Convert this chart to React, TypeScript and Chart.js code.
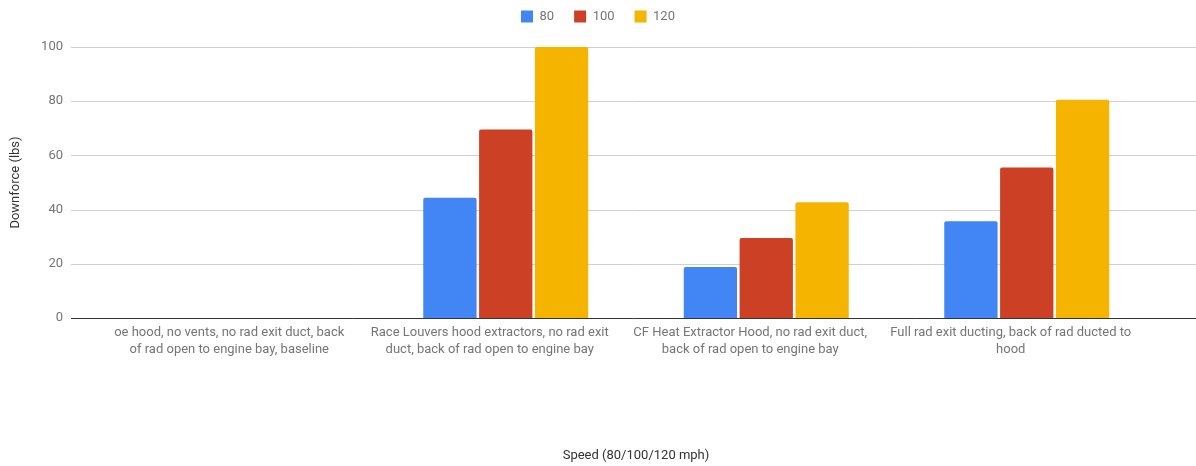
import React, { useEffect, useRef } from "react";
import { Chart, registerables } from "chart.js";

Chart.register(...registerables);

const categories: string[][] = [
  ["oe hood, no vents, no rad exit duct, back", "of rad open to engine bay, baseline"],
  ["Race Louvers hood extractors, no rad exit", "duct, back of rad open to engine bay"],
  ["CF Heat Extractor Hood, no rad exit duct,", "back of rad open to engine bay"],
  ["Full rad exit ducting, back of rad ducted to", "hood"],
];
const seriesNames = ["80", "100", "120"];
const values80 = [0, 44.4, 18.8, 35.7];
const values100 = [0, 69.6, 29.5, 55.5];
const values120 = [0, 100, 42.7, 80.5];
const seriesColors = ["#4285f4", "#cc4125", "#f4b400"];
const yTicks = [0, 20, 40, 60, 80, 100];
const yTitle = "Downforce (lbs)";
const xTitle = "Speed (80/100/120 mph)";

const FONT = "Roboto, 'Noto Sans', Arial, sans-serif";

const gridPlugin = {
  id: "extGrid",
  beforeDatasetsDraw(chart: any) {
    const y = chart.scales.y;
    const ctx = chart.ctx;
    ctx.save();
    ctx.strokeStyle = "#d0d0d0";
    ctx.lineWidth = 1;
    yTicks.forEach((t) => {
      if (t === 0) return;
      const py = Math.round(y.getPixelForValue(t)) + 0.5;
      ctx.beginPath();
      ctx.moveTo(71, py);
      ctx.lineTo(chart.width, py);
      ctx.stroke();
    });
    ctx.restore();
  },
  afterDatasetsDraw(chart: any) {
    const y = chart.scales.y;
    const ctx = chart.ctx;
    ctx.save();
    ctx.strokeStyle = "#333333";
    ctx.lineWidth = 1;
    const py = Math.round(y.getPixelForValue(0)) + 0.5;
    ctx.beginPath();
    ctx.moveTo(71, py);
    ctx.lineTo(chart.width, py);
    ctx.stroke();
    ctx.restore();
  },
};

export default function App() {
  const ref = useRef<HTMLCanvasElement | null>(null);
  useEffect(() => {
    if (!ref.current) return;
    const data = [values80, values100, values120];
    const chart = new Chart(ref.current, {
      type: "bar",
      data: {
        labels: categories,
        datasets: seriesNames.map((n, i) => ({
          label: n,
          data: data[i],
          backgroundColor: seriesColors[i],
          borderWidth: 0,
          borderRadius: 2,
          barPercentage: 0.955,
          categoryPercentage: 0.643,
          xAxisID: "x",
          yAxisID: "y",
        })),
      },
      options: {
        animation: false,
        responsive: false,
        maintainAspectRatio: false,
        layout: { padding: { top: -10, left: 0, right: 0, bottom: 0 } },
        plugins: {
          tooltip: { enabled: false },
          legend: {
            position: "top",
            labels: {
              boxWidth: 12,
              boxHeight: 12,
              padding: 20,
              color: "#757575",
              font: { family: FONT, size: 13 },
            },
          },
        },
        scales: {
          x: {
            type: "category",
            position: "bottom",
            grid: { display: false, drawTicks: false },
            border: { display: false },
            ticks: {
              color: "#757575",
              font: { family: FONT, size: 13, lineHeight: 1.3 },
              padding: 6,
              labelOffset: -16,
              maxRotation: 0,
              minRotation: 0,
              autoSkip: false,
            },
            title: {
              display: true,
              text: xTitle,
              color: "#333333",
              font: { family: FONT, size: 13 },
              padding: { top: 0, bottom: 2 },
            },
            afterFit: (s: any) => {
              s.height = 148;
              s.paddingLeft = 0;
              s.paddingRight = 0;
            },
          },
          xTop: {
            type: "category",
            position: "top",
            display: true,
            grid: { display: false, drawTicks: false },
            border: { display: false },
            ticks: { display: false },
            afterFit: (s: any) => {
              s.height = 14;
            },
          },
          y: {
            type: "linear",
            position: "left",
            min: 0,
            max: 100,
            grid: { display: false, drawTicks: false },
            border: { display: false },
            ticks: {
              stepSize: 20,
              color: "#757575",
              font: { family: FONT, size: 13 },
              padding: 52,
            },
            title: {
              display: true,
              text: yTitle,
              color: "#333333",
              font: { family: FONT, size: 13 },
              padding: { top: 8, bottom: 0 },
            },
            afterFit: (s: any) => {
              s.width = 115;
              s.paddingTop = 0;
              s.paddingBottom = 0;
            },
          },
          yRight: {
            type: "linear",
            position: "right",
            display: true,
            grid: { display: false, drawTicks: false },
            border: { display: false },
            ticks: { display: false },
            afterFit: (s: any) => {
              s.width = 39;
              s.paddingTop = 0;
              s.paddingBottom = 0;
            },
          },
        },
      },
      plugins: [gridPlugin],
    });
    return () => chart.destroy();
  }, []);
  return (
    <div style={{ position: "fixed", left: 0, top: 0, width: 1196, height: 466, background: "#fff" }}>
      <canvas ref={ref} width={1196} height={466} style={{ width: 1196, height: 466, display: "block" }} />
    </div>
  );
}
